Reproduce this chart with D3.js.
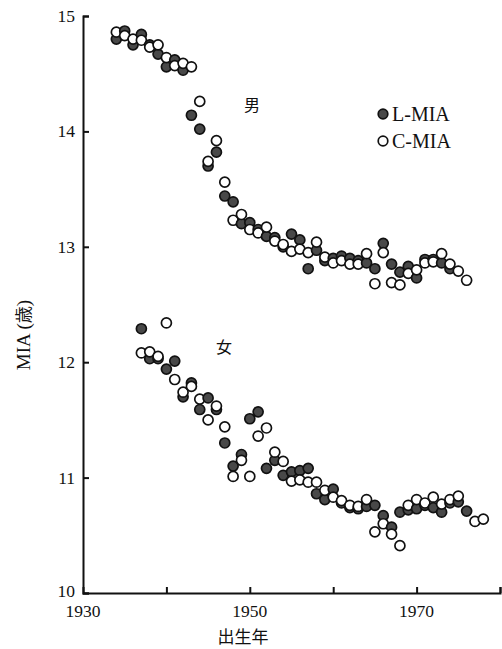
<!DOCTYPE html>
<html>
<head>
<meta charset="utf-8">
<script src="https://cdn.jsdelivr.net/npm/d3@7"></script>
<style>
  body { margin: 0; background: #fff; }
  svg text { fill: #111; }
</style>
</head>
<body>
<svg id="chart" width="502" height="649"></svg>
<script>
// Birth years and MIA values
const maleYearsL = d3.range(1934, 1975);
const maleL = [14.80, 14.87, 14.75, 14.84, 14.75, 14.67, 14.56, 14.62, 14.53, 14.14,
  14.02, 13.70, 13.82, 13.44, 13.39, 13.20, 13.21, 13.15, 13.09, 13.08,
  13.00, 13.11, 13.06, 12.81, 12.97, 12.88, 12.90, 12.92, 12.90, 12.88,
  12.86, 12.81, 13.03, 12.85, 12.78, 12.83, 12.73, 12.89, 12.89, 12.86, 12.81];
const maleYearsC = d3.range(1934, 1977);
const maleC = [14.86, 14.83, 14.80, 14.79, 14.73, 14.75, 14.64, 14.57, 14.59, 14.56,
  14.26, 13.74, 13.92, 13.56, 13.23, 13.28, 13.15, 13.12, 13.17, 13.05,
  13.02, 12.96, 12.98, 12.95, 13.04, 12.91, 12.86, 12.88, 12.85, 12.85,
  12.94, 12.68, 12.95, 12.69, 12.67, 12.77, 12.80, 12.86, 12.87, 12.94,
  12.85, 12.79, 12.71];
const femaleYearsL = d3.range(1937, 1977);
const femaleL = [12.29, 12.03, 12.03, 11.94, 12.01, 11.70, 11.82, 11.59, 11.69, 11.59,
  11.30, 11.10, 11.20, 11.51, 11.57, 11.08, 11.15, 11.02, 11.05, 11.06,
  11.08, 10.86, 10.81, 10.90, 10.78, 10.74, 10.73, 10.75, 10.76, 10.67,
  10.57, 10.70, 10.72, 10.73, 10.76, 10.74, 10.70, 10.78, 10.79, 10.71];
const femaleYearsC = d3.range(1937, 1979).filter(y => y !== 1976);
const femaleC = [12.08, 12.09, 12.05, 12.34, 11.85, 11.74, 11.79, 11.68, 11.50, 11.62,
  11.44, 11.01, 11.15, 11.01, 11.36, 11.43, 11.22, 11.14, 10.97, 10.98,
  10.96, 10.96, 10.89, 10.83, 10.80, 10.76, 10.75, 10.81, 10.53, 10.60,
  10.51, 10.41, 10.76, 10.81, 10.78, 10.83, 10.77, 10.81, 10.84, 10.62, 10.64];

const xTicks = [1940, 1950, 1960, 1970, 1980];
const xLabels = [1930, 1950, 1970];
const yTicks = [10, 11, 12, 13, 14, 15];

const svg = d3.select("#chart");
const serif = "'Liberation Serif', 'DejaVu Serif', serif";
const cjk = "'Noto Sans CJK JP', sans-serif";

const x = d3.scaleLinear().domain([1930, 1980]).range([83, 500]);
const y = d3.scaleLinear().domain([10, 15]).range([593, 16]);

// axes: ticks point inward
svg.append("g")
  .attr("transform", `translate(0,${y(10)})`)
  .call(d3.axisTop(x).tickValues(xTicks).tickSize(6).tickFormat(""))
  .call(g => g.selectAll("path, line").attr("stroke", "#111").attr("stroke-width", 2));

svg.append("g")
  .attr("transform", `translate(${x(1930)},0)`)
  .call(d3.axisRight(y).tickValues(yTicks).tickSize(6).tickFormat(""))
  .call(g => g.selectAll("path, line").attr("stroke", "#111").attr("stroke-width", 2));

svg.selectAll("text.xlab")
  .data(xLabels)
  .enter().append("text")
    .attr("class", "xlab")
    .attr("x", d => x(d))
    .attr("y", 617)
    .attr("text-anchor", "middle")
    .attr("font-family", serif)
    .attr("font-size", 17.5)
    .text(d => d);

svg.selectAll("text.ylab")
  .data(yTicks)
  .enter().append("text")
    .attr("class", "ylab")
    .attr("x", 75)
    .attr("y", d => y(d) + (d === 10 ? 4 : 6))
    .attr("text-anchor", "end")
    .attr("font-family", serif)
    .attr("font-size", 17.5)
    .text(d => d);

svg.append("text")
  .attr("x", 243)
  .attr("y", 643)
  .attr("text-anchor", "middle")
  .attr("font-family", cjk)
  .attr("font-size", 17)
  .text("出生年");

svg.append("text")
  .attr("transform", "translate(30,335) rotate(-90)")
  .attr("text-anchor", "middle")
  .attr("font-family", serif)
  .attr("font-size", 19)
  .text("MIA (")
  .append("tspan").attr("font-family", cjk).attr("font-size", 17).text("歳")
  .select(function() { return this.parentNode; })
  .append("tspan").text(")");

// points: per year L then C, so open circles sit on top where they overlap
const points = [];
const addSeries = (years, vals, type) =>
  years.forEach((yr, i) => points.push({ yr, v: vals[i], type }));
addSeries(maleYearsL, maleL, "L");
addSeries(maleYearsC, maleC, "C");
addSeries(femaleYearsL, femaleL, "L");
addSeries(femaleYearsC, femaleC, "C");
points.sort((a, b) => a.yr - b.yr || (a.type === "L" ? -1 : 1));

svg.append("g")
  .selectAll("circle")
  .data(points)
  .enter().append("circle")
    .attr("cx", d => x(d.yr))
    .attr("cy", d => y(d.v))
    .attr("r", 5)
    .attr("fill", d => d.type === "L" ? "#484848" : "#fff")
    .attr("stroke", "#111")
    .attr("stroke-width", 1.7);

// group labels
svg.append("text")
  .attr("x", 252).attr("y", 111)
  .attr("text-anchor", "middle")
  .attr("font-family", cjk).attr("font-size", 16)
  .text("男");
svg.append("text")
  .attr("x", 224).attr("y", 353)
  .attr("text-anchor", "middle")
  .attr("font-family", cjk).attr("font-size", 16)
  .text("女");

// legend
const legend = [
  { label: "L-MIA", type: "L" },
  { label: "C-MIA", type: "C" },
];
const lg = svg.append("g").attr("transform", "translate(383,114)");
lg.selectAll("circle")
  .data(legend)
  .enter().append("circle")
    .attr("cx", 0)
    .attr("cy", (d, i) => i * 27)
    .attr("r", 4.8)
    .attr("fill", d => d.type === "L" ? "#484848" : "#fff")
    .attr("stroke", "#111")
    .attr("stroke-width", 1.7);
lg.selectAll("text")
  .data(legend)
  .enter().append("text")
    .attr("x", 9)
    .attr("y", (d, i) => i * 27 + 7)
    .attr("font-family", serif)
    .attr("font-size", 20)
    .text(d => d.label);
</script>
</body>
</html>
